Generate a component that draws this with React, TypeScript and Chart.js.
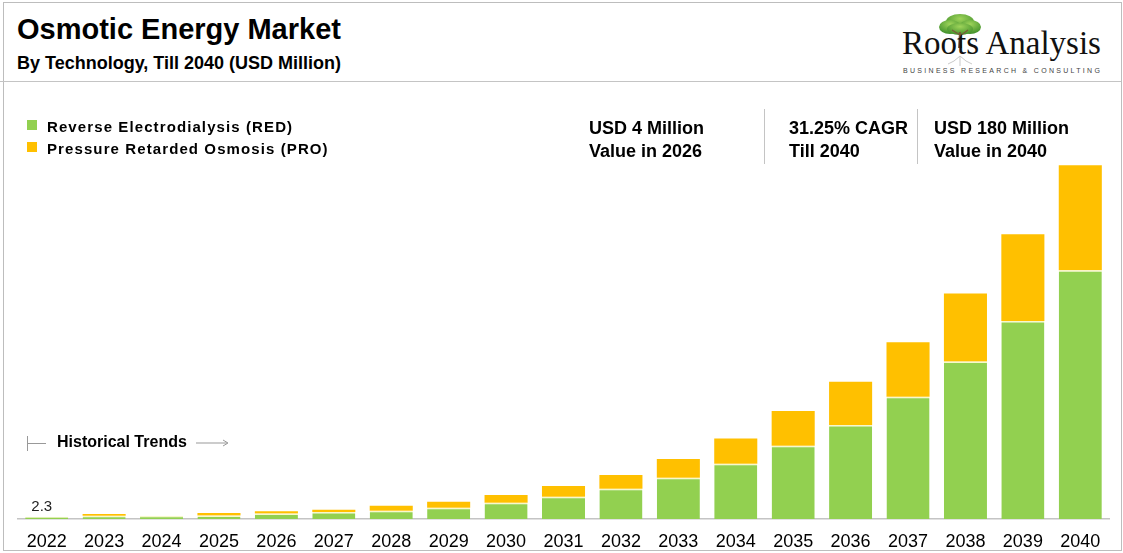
import { useEffect, useRef } from 'react';
import { Chart, registerables } from 'chart.js';

Chart.register(...registerables);

const years = ['2022', '2023', '2024', '2025', '2026', '2027', '2028', '2029', '2030', '2031', '2032', '2033', '2034', '2035', '2036', '2037', '2038', '2039', '2040'];
const redValues = [1.2, 1.6, 1.7, 1.8, 2.8, 3.5, 4.2, 5.7, 8.3, 11.3, 15.4, 21.0, 28.1, 37.3, 47.9, 62.2, 80.2, 100.8, 126.6];
const proValues = [0, 0.9, 0, 1.2, 1.2, 1.2, 2.6, 3.1, 3.9, 5.5, 7.0, 9.5, 12.9, 17.6, 21.9, 27.8, 34.5, 44.1, 53.4];
const firstBarLabel = '2.3';

const GREEN = '#92D050';
const YELLOW = '#FFC000';
const FONT = '"Liberation Sans", Arial, sans-serif';

const firstLabelPlugin = {
    id: 'firstLabel',
    afterDatasetsDraw(chart: Chart) {
        const meta = chart.getDatasetMeta(0);
        const bar = meta.data[0] as any;
        if (!bar) return;
        const ctx = chart.ctx;
        ctx.save();
        ctx.font = `15px ${FONT}`;
        ctx.fillStyle = '#222';
        ctx.textAlign = 'center';
        ctx.textBaseline = 'middle';
        ctx.fillText(firstBarLabel, bar.x - 5, bar.y - 10);
        ctx.restore();
    }
};

function MarketChart() {
    const canvasRef = useRef<HTMLCanvasElement>(null);
    const chartRef = useRef<Chart | null>(null);

    useEffect(() => {
        if (!canvasRef.current) return;
        if (chartRef.current) chartRef.current.destroy();
        const ctx = canvasRef.current.getContext('2d');
        if (!ctx) return;

        chartRef.current = new Chart(ctx, {
            type: 'bar',
            data: {
                labels: years,
                datasets: [
                    {
                        label: 'Reverse Electrodialysis (RED)',
                        data: redValues,
                        backgroundColor: GREEN,
                        borderColor: '#F7F8CC',
                        borderWidth: { top: 1.5, left: 0, right: 0, bottom: 0 },
                        borderSkipped: 'start'
                    },
                    {
                        label: 'Pressure Retarded Osmosis (PRO)',
                        data: proValues,
                        backgroundColor: YELLOW,
                        borderWidth: 0
                    }
                ]
            },
            options: {
                responsive: false,
                maintainAspectRatio: false,
                animation: false,
                barPercentage: 0.75,
                categoryPercentage: 1,
                layout: { padding: { left: 18, right: 14, top: 126, bottom: 0 } },
                plugins: {
                    legend: { display: false },
                    tooltip: { enabled: false },
                    title: { display: false }
                },
                scales: {
                    x: {
                        stacked: true,
                        grid: { display: false, drawTicks: false },
                        border: { display: true, color: '#c4c4c4', width: 1.5 },
                        ticks: {
                            color: '#000',
                            font: { family: FONT, size: 18 },
                            padding: 12,
                            maxRotation: 0,
                            autoSkip: false
                        },
                        afterFit: (scale: any) => {
                            scale.height = 34;
                        }
                    },
                    y: {
                        stacked: true,
                        display: false,
                        min: 0,
                        max: 200
                    }
                }
            },
            plugins: [firstLabelPlugin]
        });

        return () => {
            if (chartRef.current) {
                chartRef.current.destroy();
                chartRef.current = null;
            }
        };
    }, []);

    return (
        <canvas
            ref={canvasRef}
            width={1123}
            height={553}
            style={{ position: 'absolute', left: 0, top: 0, width: '1123px', height: '553px' }}
        />
    );
}

const boldText = (size: number): React.CSSProperties => ({
    position: 'absolute',
    fontFamily: FONT,
    fontWeight: 'bold',
    fontSize: `${size}px`,
    color: '#000',
    whiteSpace: 'nowrap',
    lineHeight: 1
});

function Logo() {
    return (
        <>
            <svg width="60" height="64" style={{ position: 'absolute', left: 930, top: 8 }} viewBox="0 0 60 64">
                <defs>
                    <radialGradient id="leaf" cx="0.5" cy="0.3" r="0.7">
                        <stop offset="0" stopColor="#9fd45a" />
                        <stop offset="1" stopColor="#3f8f2a" />
                    </radialGradient>
                </defs>
                <ellipse cx="30" cy="14" rx="14" ry="8" fill="url(#leaf)" />
                <ellipse cx="20" cy="19" rx="11" ry="7" fill="url(#leaf)" />
                <ellipse cx="40" cy="19" rx="11" ry="7" fill="url(#leaf)" />
                <ellipse cx="30" cy="21" rx="13" ry="6" fill="url(#leaf)" />
                <path d="M29 24 L28 40 L32 40 L31 24 Z" fill="#7a5a3a" />
                <path d="M30 27 L22 22 M30 28 L38 22" stroke="#7a5a3a" strokeWidth="1.2" />
                <path d="M30 48 Q24 54 18 56 M30 48 Q36 54 42 56 M30 48 L30 58" stroke="#c9c9c9" strokeWidth="1" fill="none" />
            </svg>
            <div
                style={{
                    position: 'absolute',
                    left: 902,
                    top: 27,
                    fontFamily: '"Liberation Serif", "Times New Roman", serif',
                    fontSize: '33px',
                    color: '#111',
                    whiteSpace: 'nowrap',
                    lineHeight: 1
                }}
            >
                Roots Analysis
            </div>
            <div
                style={{
                    position: 'absolute',
                    left: 903,
                    top: 67,
                    fontFamily: FONT,
                    fontSize: '7px',
                    letterSpacing: '2.3px',
                    color: '#444',
                    whiteSpace: 'nowrap',
                    lineHeight: 1
                }}
            >
                BUSINESS RESEARCH &amp; CONSULTING
            </div>
        </>
    );
}

export default function App() {
    return (
        <div style={{ position: 'absolute', left: 0, top: 0, width: 1123, height: 553, background: '#fff', overflow: 'hidden' }}>
            <div style={{ position: 'absolute', left: 3, top: 2, width: 1117, height: 547, border: '1px solid #bdbdbd' }} />
            <div style={{ position: 'absolute', left: 0, top: 81, width: 1121, height: 0, borderTop: '1px solid #c4c4c4' }} />

            <div style={{ ...boldText(29), left: 17, top: 15 }}>Osmotic Energy Market</div>
            <div style={{ ...boldText(18), left: 17, top: 54 }}>By Technology, Till 2040 (USD Million)</div>
            <Logo />

            <MarketChart />

            <div style={{ position: 'absolute', left: 27, top: 120, width: 10, height: 10, background: GREEN }} />
            <div style={{ ...boldText(15), left: 47, top: 119, letterSpacing: '1.1px' }}>Reverse Electrodialysis (RED)</div>
            <div style={{ position: 'absolute', left: 27, top: 142, width: 10, height: 10, background: YELLOW }} />
            <div style={{ ...boldText(15), left: 47, top: 141, letterSpacing: '1.1px' }}>Pressure Retarded Osmosis (PRO)</div>

            <div style={{ ...boldText(18), left: 589, top: 117, lineHeight: '23px' }}>
                USD 4 Million<br />Value in 2026
            </div>
            <div style={{ position: 'absolute', left: 764, top: 109, width: 0, height: 55, borderLeft: '1px solid #c4c4c4' }} />
            <div style={{ ...boldText(18), left: 789, top: 117, lineHeight: '23px' }}>
                31.25% CAGR<br />Till 2040
            </div>
            <div style={{ position: 'absolute', left: 917, top: 109, width: 0, height: 55, borderLeft: '1px solid #c4c4c4' }} />
            <div style={{ ...boldText(18), left: 934, top: 117, lineHeight: '23px' }}>
                USD 180 Million<br />Value in 2040
            </div>

            <div style={{ position: 'absolute', left: 27, top: 436, width: 0, height: 15, borderLeft: '1px solid #999' }} />
            <div style={{ position: 'absolute', left: 28, top: 443, width: 18, height: 0, borderTop: '1px solid #999' }} />
            <div style={{ ...boldText(16), left: 57, top: 434 }}>Historical Trends</div>
            <svg width="40" height="10" style={{ position: 'absolute', left: 195, top: 438 }}>
                <line x1="1" y1="5" x2="32" y2="5" stroke="#999" strokeWidth="1" />
                <path d="M28 2 L33 5 L28 8" stroke="#999" strokeWidth="1" fill="none" />
            </svg>
        </div>
    );
}
